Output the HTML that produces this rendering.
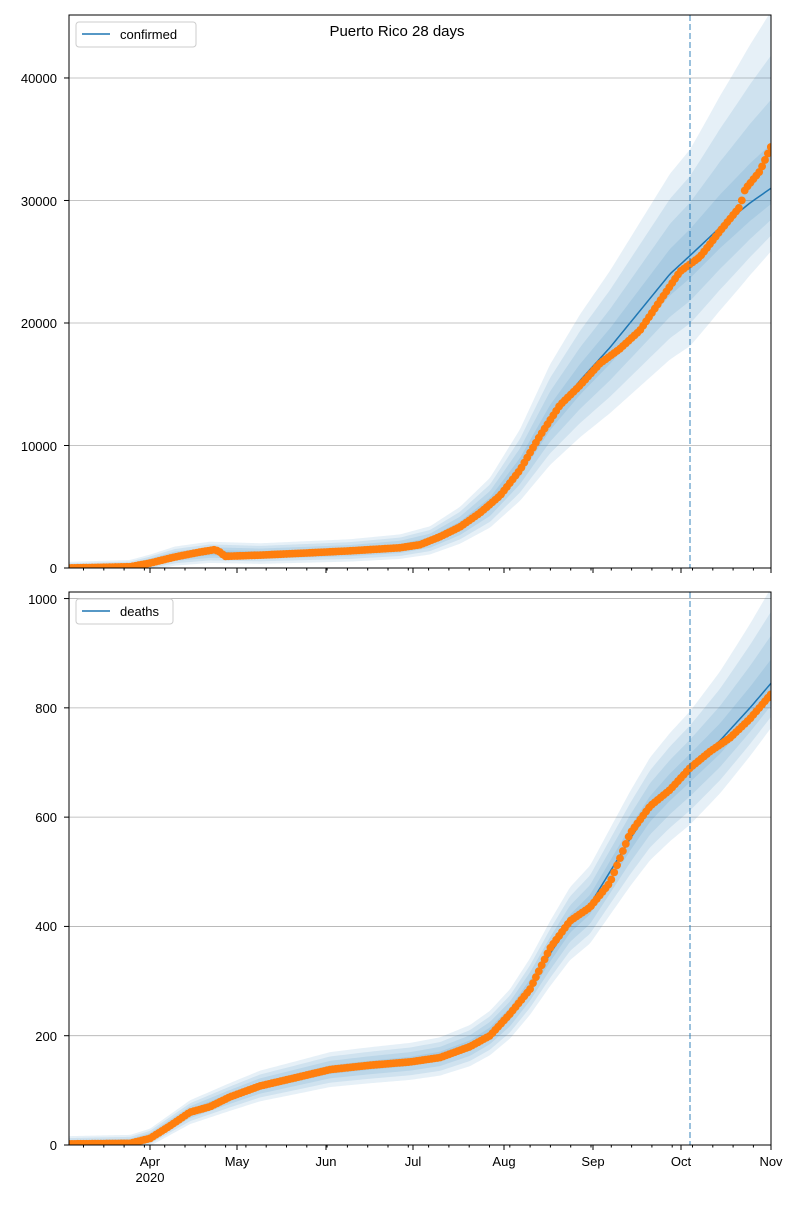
<!DOCTYPE html>
<html><head><meta charset="utf-8"><style>
body{margin:0;background:#fff;}
svg text{font-family:"Liberation Sans","DejaVu Sans",sans-serif;font-size:13px;fill:#000;}
</style></head><body>
<svg id="s" width="800" height="1200" xmlns="http://www.w3.org/2000/svg">
<rect width="800" height="1200" fill="#fff"/>
<g id="top"></g><g id="bot"></g>
<g text-anchor="end">
<text x="57" y="573">0</text><text x="57" y="451">10000</text><text x="57" y="328">20000</text><text x="57" y="206">30000</text><text x="57" y="83">40000</text>
<text x="57" y="1150">0</text><text x="57" y="1041">200</text><text x="57" y="931">400</text><text x="57" y="822">600</text><text x="57" y="713">800</text><text x="57" y="604">1000</text>
</g>
<g text-anchor="middle">
<text x="150" y="1166">Apr</text><text x="150" y="1182">2020</text><text x="237" y="1166">May</text><text x="326" y="1166">Jun</text><text x="413" y="1166">Jul</text><text x="504" y="1166">Aug</text><text x="593" y="1166">Sep</text><text x="681" y="1166">Oct</text><text x="771" y="1166">Nov</text>
<text x="397" y="36" style="font-size:15px">Puerto Rico 28 days</text>
</g>
<g>
<rect x="76" y="22" width="120" height="25" fill="#fff" fill-opacity="0.8" stroke="#ccc" rx="3"/>
<line x1="82" y1="34" x2="110" y2="34" stroke="#1f77b4" stroke-width="1.5"/>
<text x="120" y="39">confirmed</text>
<rect x="76" y="599" width="97" height="25" fill="#fff" fill-opacity="0.8" stroke="#ccc" rx="3"/>
<line x1="82" y1="611" x2="110" y2="611" stroke="#1f77b4" stroke-width="1.5"/>
<text x="120" y="616">deaths</text>
</g>
</svg>
<script>
var NS="http://www.w3.org/2000/svg";
function el(p,t,a){var e=document.createElementNS(NS,t);for(var k in a)e.setAttribute(k,a[k]);p.appendChild(e);return e;}
function interp(pts,x){for(var i=1;i<pts.length;i++){if(x<=pts[i][0]){var a=pts[i-1],b=pts[i];return a[1]+(b[1]-a[1])*(x-a[0])/(b[0]-a[0]);}}return pts[pts.length-1][1];}
var X0=69,X1=771;
function axes(g,y0,y1,vmax,grid,dots,model,up,lo,abs){
  var sy=function(v){return y1-(v/vmax)*(y1-y0);};
  var H=y1-y0;
  grid.forEach(function(v){el(g,"line",{x1:X0,x2:X1,y1:sy(v),y2:sy(v),stroke:"#b0b0b0","stroke-width":0.8});});
  var clip=el(g,"clipPath",{id:"c"+y0});el(clip,"rect",{x:X0,y:y0,width:X1-X0,height:H});
  var cg=el(g,"g",{"clip-path":"url(#c"+y0+")"});
  [1,0.75,0.5,0.25].forEach(function(m){
    var top=[],bot=[];
    for(var x=X0;x<=X1;x+=2){var v=interp(model,x);var a=abs(x);top.push(x+","+sy(v*(1+m*up(x))+m*a));bot.unshift(x+","+sy(Math.max(0,v*(1-m*lo(x))-m*a)));}
    el(cg,"polygon",{points:top.concat(bot).join(" "),fill:"#1f77b4","fill-opacity":0.11});
  });
  var lp=[];for(var x=X0;x<=X1;x+=2)lp.push(x+","+sy(interp(model,x)));
  el(cg,"polyline",{points:lp.join(" "),fill:"none",stroke:"#1f77b4","stroke-width":1.5});
  for(var x=X0;x<=X1+0.1;x+=2.9){el(cg,"circle",{cx:x,cy:sy(interp(dots,x)),r:3.9,fill:"#ff7f0e"});}
  el(g,"line",{x1:690,x2:690,y1:y0,y2:y1,stroke:"#1f77b4","stroke-opacity":0.6,"stroke-width":1.5,"stroke-dasharray":"6,3"});
  el(g,"rect",{x:X0,y:y0,width:X1-X0,height:H,fill:"none",stroke:"#000","stroke-width":1});
  var months=[150,237,326,413,504,593,681,771];
  months.forEach(function(x){el(g,"line",{x1:x,x2:x,y1:y1,y2:y1+5,stroke:"#000"});});
  for(var x=83.5;x<X1;x+=20.3){el(g,"line",{x1:x,x2:x,y1:y1,y2:y1+2.5,stroke:"#000"});}
  grid.forEach(function(v){el(g,"line",{x1:X0-5,x2:X0,y1:sy(v),y2:sy(v),stroke:"#000"});});
}
var cdots=[[69,0],[130,100],[150,400],[175,900],[200,1300],[215,1500],[220,1300],[225,950],[260,1050],[300,1200],[350,1400],[400,1650],[420,1900],[440,2550],[460,3350],[480,4500],[500,5900],[520,8000],[540,10800],[560,13300],[580,14900],[600,16700],[620,17900],[640,19400],[660,21800],[680,24200],[700,25400],[720,27500],[740,29500],[745,30900],[760,32400],[771,34400]];
var cmod=[[69,0],[130,120],[150,450],[175,950],[210,1250],[260,1150],[350,1400],[400,1700],[430,2200],[460,3400],[490,5200],[520,8200],[550,12200],[580,15300],[610,18000],[640,21000],[670,24000],[690,25500],[720,27800],[750,29800],[771,31000]];
axes(document.getElementById("top"),15,568,45140,[0,10000,20000,30000,40000],cdots,cmod,
 function(x){return x<690?0.32:0.32+0.13*(x-690)/81;},function(x){return x<690?0.27:0.27-0.12*(x-690)/81;},
 function(x){return x<450?500:500;});
var ddots=[[69,2],[130,3],[150,12],[170,35],[190,60],[210,70],[230,88],[260,108],[300,125],[330,138],[370,146],[410,152],[440,160],[470,180],[490,200],[510,240],[530,285],[550,360],[570,410],[590,435],[610,480],[630,570],[650,620],[670,650],[690,690],[710,720],[730,745],[750,780],[771,825]];
var dmod=[[69,2],[130,4],[150,14],[170,37],[190,60],[230,88],[260,108],[300,125],[330,138],[370,146],[410,153],[440,162],[470,182],[490,205],[510,240],[530,290],[550,350],[570,405],[590,440],[610,500],[630,560],[650,615],[670,655],[690,690],[720,740],[750,800],[771,845]];
axes(document.getElementById("bot"),592,1145,1012,[0,200,400,600,800,1000],ddots,dmod,
 function(x){return x<690?0.13:0.13+0.06*(x-690)/81;},function(x){return x<690?0.13:0.13-0.05*(x-690)/81;},
 function(x){return 14;});
</script>
</body></html>
